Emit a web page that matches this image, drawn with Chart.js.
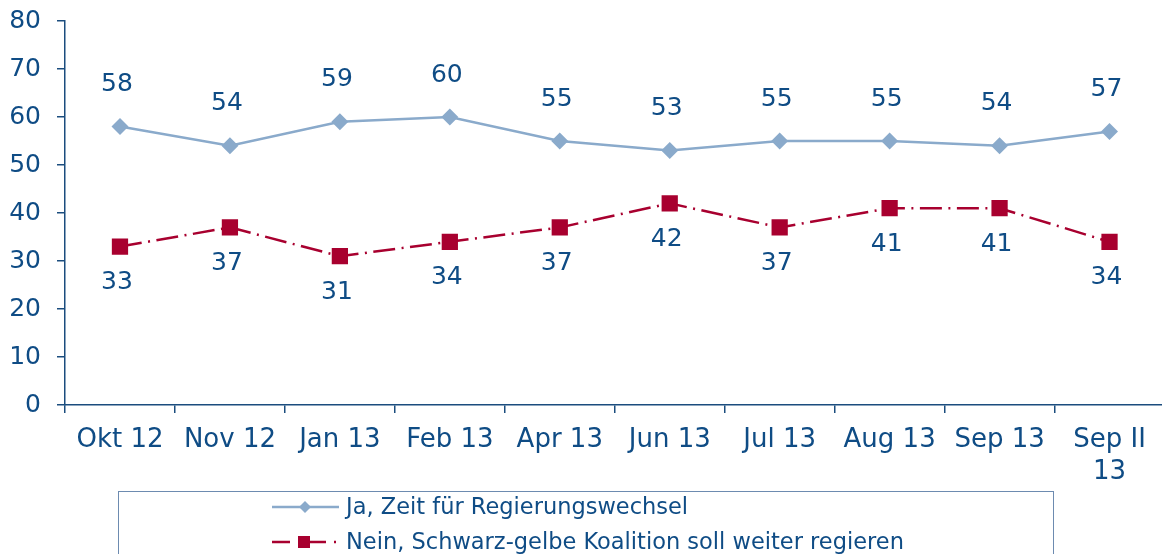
<!DOCTYPE html>
<html>
<head>
<meta charset="utf-8">
<script src="https://cdn.jsdelivr.net/npm/chart.js@4.4.1/dist/chart.umd.min.js"></script>
<style>
  html, body { margin: 0; padding: 0; background: #fff; overflow: hidden; }
  #wrap { width: 1176px; height: 554px; position: relative; }
</style>
</head>
<body>
<div id="wrap"><canvas id="chart"></canvas></div>
<script>
// Data
const categories = ["Okt 12", "Nov 12", "Jan 13", "Feb 13", "Apr 13", "Jun 13", "Jul 13", "Aug 13", "Sep 13", ["Sep II", "13"]]
const jaValues = [58, 54, 59, 60, 55, 53, 55, 55, 54, 57]
const neinValues = [33, 37, 31, 34, 37, 42, 37, 41, 41, 34]
const seriesNames = ["Ja, Zeit für Regierungswechsel", "Nein, Schwarz-gelbe Koalition soll weiter regieren"]
const yTicks = [0, 10, 20, 30, 40, 50, 60, 70, 80]

const TEXT = "#0f4c85"
const AXIS = "#1b4d7e"
const JA_COLOR = "#8aaacb"
const NEIN_COLOR = "#a8002f"
const FONT = "'DejaVu Sans', Verdana, sans-serif"

// value labels above / below points
const valueLabels = {
  id: "valueLabels",
  afterDatasetsDraw(chart) {
    const ctx = chart.ctx
    ctx.save()
    ctx.font = "25px " + FONT
    ctx.fillStyle = TEXT
    ctx.textAlign = "center"
    ctx.textBaseline = "middle"
    chart.data.datasets.forEach((ds, i) => {
      const meta = chart.getDatasetMeta(i)
      const off = i === 0 ? -42 : 36
      meta.data.forEach((pt, j) => {
        ctx.fillText(String(ds.data[j]), pt.x - 3, pt.y + off)
      })
    })
    ctx.restore()
  }
}

// boxed legend drawn at the bottom
const boxLegend = {
  id: "boxLegend",
  afterDraw(chart) {
    const ctx = chart.ctx
    ctx.save()
    ctx.strokeStyle = "#6d8bb0"
    ctx.lineWidth = 1
    ctx.strokeRect(118.5, 491.5, 935, 120)
    const rows = [507, 542]
    chart.data.datasets.forEach((ds, i) => {
      const y = rows[i]
      ctx.strokeStyle = ds.borderColor
      ctx.lineWidth = 2.5
      ctx.setLineDash(i === 1 ? [18, 8, 2, 8] : [])
      ctx.beginPath()
      ctx.moveTo(272, y)
      ctx.lineTo(339, y)
      ctx.stroke()
      ctx.setLineDash([])
      ctx.fillStyle = ds.pointBackgroundColor
      ctx.beginPath()
      if (i === 0) {
        ctx.moveTo(305 - 6, y); ctx.lineTo(305, y - 6); ctx.lineTo(305 + 6, y); ctx.lineTo(305, y + 6)
      } else {
        ctx.rect(304 - 6, y - 6, 12, 12)
      }
      ctx.closePath()
      ctx.fill()
      ctx.fillStyle = TEXT
      ctx.font = "22.5px " + FONT
      ctx.textAlign = "left"
      ctx.textBaseline = "middle"
      ctx.fillText(ds.label, 346, y + 1)
    })
    ctx.restore()
  }
}

new Chart(document.getElementById("chart"), {
  type: "line",
  data: {
    labels: categories,
    datasets: [
      {
        label: seriesNames[0],
        data: jaValues,
        borderColor: JA_COLOR,
        backgroundColor: JA_COLOR,
        pointBackgroundColor: JA_COLOR,
        pointBorderColor: JA_COLOR,
        borderWidth: 2.5,
        pointStyle: "rectRot",
        pointRadius: 8.5,
        pointBorderWidth: 0,
        tension: 0
      },
      {
        label: seriesNames[1],
        data: neinValues,
        borderColor: NEIN_COLOR,
        backgroundColor: NEIN_COLOR,
        pointBackgroundColor: NEIN_COLOR,
        pointBorderColor: NEIN_COLOR,
        borderWidth: 2.5,
        borderDash: [22, 6.5, 2, 6.5],
        pointStyle: "rect",
        pointRadius: 11.5,
        pointBorderWidth: 0,
        tension: 0
      }
    ]
  },
  options: {
    responsive: true,
    maintainAspectRatio: false,
    animation: false,
    layout: { padding: { top: 21, left: 0, right: 0, bottom: 69 } },
    plugins: { legend: { display: false }, tooltip: { enabled: false } },
    scales: {
      x: {
        offset: true,
        grid: { offset: true, drawOnChartArea: false, drawTicks: true, tickLength: 8, color: AXIS, lineWidth: 1.5 },
        border: { color: AXIS, width: 1.5 },
        ticks: { color: TEXT, font: { family: FONT, size: 26 }, padding: 12, maxRotation: 0, autoSkip: false },
        afterFit(scale) { scale.height = 80; scale.paddingLeft = 0; scale.paddingRight = 0 }
      },
      y: {
        min: 0,
        max: 80,
        afterBuildTicks(scale) { scale.ticks = yTicks.map(v => ({ value: v })) },
        grid: { drawOnChartArea: false, drawTicks: true, tickLength: 8, color: AXIS, lineWidth: 1.5 },
        border: { color: AXIS, width: 1.5 },
        ticks: { color: TEXT, font: { family: FONT, size: 25 }, padding: 16 },
        afterFit(scale) { scale.width = 65; scale.paddingTop = 0; scale.paddingBottom = 0 }
      }
    }
  },
  plugins: [valueLabels, boxLegend]
})
</script>
</body>
</html>
